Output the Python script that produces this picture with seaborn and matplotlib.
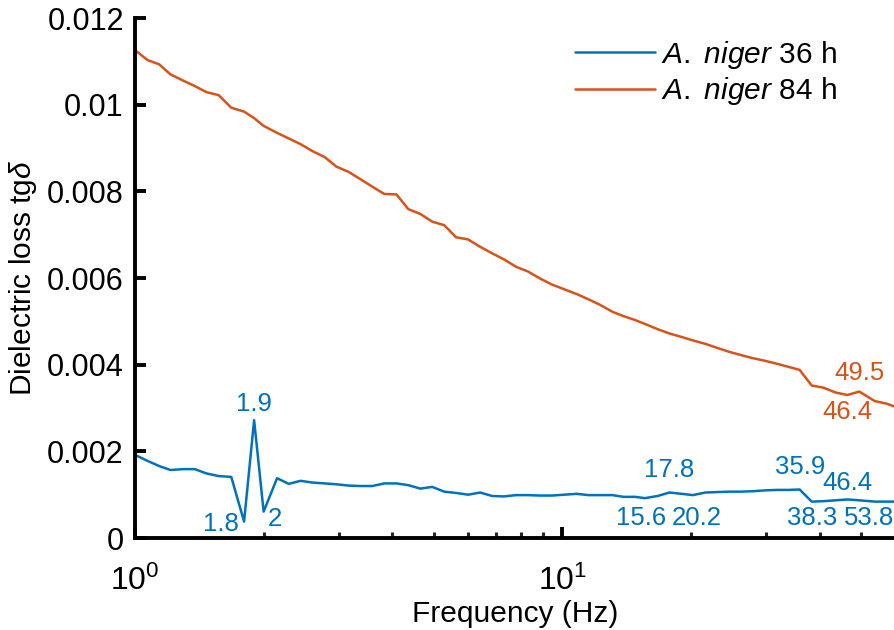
# This imports the pandas module to manage the data.
import pandas as pd

# This imports matplotlib for plotting graphs.
import matplotlib
matplotlib.use("Agg")
import matplotlib.pyplot as plt
from matplotlib.ticker import FuncFormatter, LogLocator

# This imports seaborn for data visualisations.
import seaborn as sns

# Frequencies (Hz) of the measured points.
freq = [1.0, 1.07, 1.14, 1.21, 1.3, 1.38, 1.47, 1.57, 1.68, 1.8, 1.9, 2.0,
        2.15, 2.29, 2.44, 2.6, 2.78, 2.96, 3.16, 3.37, 3.59, 3.83, 4.09, 4.36,
        4.65, 4.96, 5.29, 5.64, 6.02, 6.42, 6.85, 7.3, 7.79, 8.31, 8.86, 9.45,
        10.1, 10.8, 11.5, 12.2, 13.1, 13.9, 14.8, 15.6, 16.7, 17.8, 19.0, 20.2,
        21.6, 23.0, 24.5, 26.2, 27.9, 29.8, 31.8, 33.8, 35.9, 38.3, 40.8, 43.5,
        46.4, 49.5, 53.8, 57.4, 60.0]

# Dielectric loss for A. niger 36 h.
loss_36h = [0.00192, 0.00178, 0.00166, 0.00157, 0.00159, 0.00159, 0.00149,
            0.00143, 0.00141, 0.00038, 0.00272, 0.00061, 0.00138, 0.00125,
            0.00132, 0.00128, 0.00126, 0.00124, 0.00121, 0.00120, 0.00120,
            0.00126, 0.00126, 0.00122, 0.00114, 0.00118, 0.00107, 0.00104,
            0.00100, 0.00105, 0.00097, 0.00096, 0.00099, 0.00099, 0.00098,
            0.00098, 0.00100, 0.00102, 0.00099, 0.00099, 0.00099, 0.00095,
            0.00095, 0.00092, 0.00097, 0.00105, 0.00102, 0.00099, 0.00105,
            0.00106, 0.00107, 0.00107, 0.00108, 0.00110, 0.00111, 0.00111,
            0.00112, 0.00084, 0.00085, 0.00087, 0.00089, 0.00087, 0.00084,
            0.00084, 0.00084]

# Dielectric loss for A. niger 84 h.
loss_84h = [0.01126, 0.01103, 0.01093, 0.01070, 0.01055, 0.01043, 0.01029,
            0.01022, 0.00993, 0.00984, 0.00969, 0.00951, 0.00935, 0.00922,
            0.00909, 0.00893, 0.00879, 0.00857, 0.00845, 0.00828, 0.00811,
            0.00794, 0.00793, 0.00759, 0.00748, 0.00730, 0.00722, 0.00694,
            0.00689, 0.00672, 0.00657, 0.00643, 0.00626, 0.00615, 0.00599,
            0.00585, 0.00574, 0.00563, 0.00551, 0.00539, 0.00522, 0.00512,
            0.00503, 0.00494, 0.00482, 0.00472, 0.00464, 0.00456, 0.00448,
            0.00439, 0.00430, 0.00422, 0.00415, 0.00409, 0.00402, 0.00395,
            0.00388, 0.00352, 0.00347, 0.00336, 0.00330, 0.00338, 0.00316,
            0.00310, 0.00303]

series_names = [r"$\mathit{A.}$ $\mathit{niger}$ 36 h", r"$\mathit{A.}$ $\mathit{niger}$ 84 h"]
colours = ["#0072BD", "#D95319"]

# Frequencies that are marked with a text label on each curve.
marks_36h = ["1.8", "1.9", "2", "15.6", "17.8", "20.2", "35.9", "38.3", "46.4", "53.8"]
marks_84h = ["46.4", "49.5"]

# Text offsets (points) of each label from its point.
offsets_36h = [(-17, -2), (0, 11.5), (8, -5), (-3, -14), (0, 16.5), (3, -16.5),
               (0, 16), (0, -11.5), (0, 12), (-4, -11.5)]
offsets_84h = [(0, -12), (0, 13)]

# This builds one long table for seaborn.
df = pd.DataFrame({
    "Frequency": freq + freq,
    "Loss": loss_36h + loss_84h,
    "Series": [series_names[0]] * len(freq) + [series_names[1]] * len(freq),
})

sns.set_style("ticks")
plt.rcParams["font.family"] = ["Liberation Sans", "DejaVu Sans"]
plt.rcParams["mathtext.fontset"] = "custom"
plt.rcParams["mathtext.rm"] = "Liberation Sans"
plt.rcParams["mathtext.it"] = "Liberation Sans:italic"
plt.rcParams["text.color"] = "black"
plt.rcParams["axes.labelcolor"] = "black"

fig = plt.figure(figsize=(8.95, 6.3), dpi=100)
ax = fig.add_axes([0.1508, 0.146, 0.8492, 0.8254])

sns.lineplot(data=df, x="Frequency", y="Loss", hue="Series", palette=colours,
             hue_order=series_names, estimator=None, sort=False, linewidth=1.8, ax=ax)

ax.set_xscale("log")
ax.set_xlim(1, 60)
ax.set_ylim(0, 0.012)
ax.set_yticks([0, 0.002, 0.004, 0.006, 0.008, 0.01, 0.012])
ax.yaxis.set_major_formatter(FuncFormatter(lambda v, p: "%g" % v))
ax.xaxis.set_major_locator(LogLocator(base=10))
ax.xaxis.set_minor_locator(LogLocator(base=10, subs=range(2, 10)))

# Axis styling: only the left and bottom spines, ticks pointing inwards.
for side in ["top", "right"]:
    ax.spines[side].set_visible(False)
for side in ["left", "bottom"]:
    ax.spines[side].set_linewidth(2.8)
    ax.spines[side].set_color("black")
ax.tick_params(axis="both", which="major", direction="in", length=8, width=2.8,
               labelsize=22, colors="black")
ax.tick_params(axis="x", which="minor", direction="in", length=4.5, width=2.2)
ax.tick_params(axis="y", which="major", pad=8)
ax.tick_params(axis="x", which="major", pad=20, labelsize=23)

ax.set_xlabel("Frequency (Hz)", fontsize=21.5, labelpad=2)
ax.set_ylabel(r"Dielectric loss tg$\delta$", fontsize=21.5, labelpad=6)

# This writes the frequency labels next to the marked points.
for series, marks, offs, col in [(loss_36h, marks_36h, offsets_36h, colours[0]),
                                 (loss_84h, marks_84h, offsets_84h, colours[1])]:
    for text, off in zip(marks, offs):
        i = freq.index(float(text))
        ax.annotate(text, xy=(freq[i], series[i]), xytext=off, textcoords="offset points",
                    ha="center", va="center", fontsize=18.5, color=col)

handles, labels = ax.get_legend_handles_labels()
ax.legend(handles, labels, loc="upper left", bbox_to_anchor=(0.555, 0.995), frameon=False,
          fontsize=21.5, handlelength=2.7, handletextpad=0.2, labelspacing=0.15,
          borderaxespad=0.2)

fig.savefig("out.png", dpi=100)
